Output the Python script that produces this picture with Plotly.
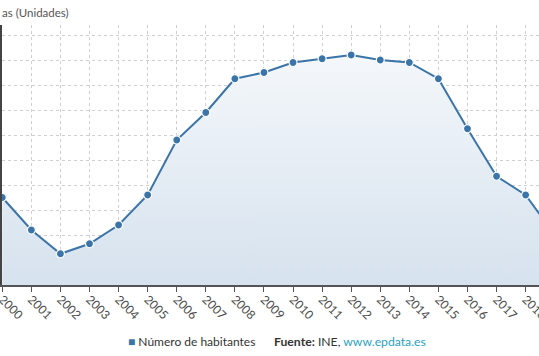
import plotly.graph_objects as go

years = list(range(2000, 2020))
habitantes = [1670, 1644, 1625, 1633, 1648, 1672, 1716, 1738, 1765, 1770,
              1778, 1781, 1784, 1780, 1778, 1765, 1725, 1687, 1672, 1640]
series_name = "Número de habitantes"
y_title = "as (Unidades)"

line_color = "#3a74a8"
font_family = "Lato, 'Open Sans', sans-serif"

fig = go.Figure()
fig.add_trace(go.Scatter(
    x=years, y=habitantes, mode="lines+markers", name=series_name,
    line=dict(color=line_color, width=2),
    marker=dict(size=8, color=line_color, line=dict(color="white", width=1.2)),
    fill="tozeroy",
    fillgradient=dict(type="vertical", start=1600, stop=1790,
                      colorscale=[[0, "#d6e2ee"], [1, "#f5f8fb"]]),
    showlegend=False,
))

fig.update_layout(
    width=539, height=356,
    margin=dict(l=2, r=0, t=25, b=71, autoexpand=False),
    paper_bgcolor="white", plot_bgcolor="white",
    font=dict(family=font_family, color="#555"),
    xaxis=dict(range=[1999.99, 2018.46], dtick=1, tick0=2000, automargin=False,
               showgrid=True, gridcolor="#cfcfcf", griddash="dot", gridwidth=1,
               showline=True, linecolor="#555", linewidth=1.5,
               ticks="outside", ticklen=5, tickcolor="#555",
               tickangle=45, tickfont=dict(size=12, color="#4a4a4a"),
               ticklabeloverflow="allow", ticklabelstandoff=-4,
               zeroline=False),
    yaxis=dict(range=[1600, 1808], dtick=20, tick0=1600, automargin=False,
               showgrid=True, gridcolor="#cfcfcf", griddash="dot", gridwidth=1,
               showline=True, linecolor="#444", linewidth=2,
               ticks="outside", ticklen=5, showticklabels=False,
               zeroline=False),
    annotations=[
        dict(text=y_title, x=0, y=1, xref="paper", yref="paper",
             xanchor="left", yanchor="bottom", xshift=-2, yshift=4, showarrow=False,
             font=dict(size=11.5, color="#555")),
        dict(text="<span style='color:" + line_color + "'>■</span> " + series_name,
             x=126, y=341, xref="paper", yref="paper", showarrow=False,
             xanchor="left", yanchor="middle", font=dict(size=12, color="#333")),
        dict(text="<b>Fuente:</b> INE, <span style='color:#2a9fc7'>www.epdata.es</span>",
             x=272, y=341, xref="paper", yref="paper", showarrow=False,
             xanchor="left", yanchor="middle", font=dict(size=12.2, color="#333")),
    ],
)

pw, ph = 539 - 2 - 0, 356 - 25 - 71
for a in fig.layout.annotations[1:]:
    a.x = (a.x - 2) / pw
    a.y = (356 - 71 - a.y) / ph

fig.write_html("out.html", config={"displayModeBar": False},
               post_script="document.body.style.margin='0';document.body.style.overflow='hidden';")
